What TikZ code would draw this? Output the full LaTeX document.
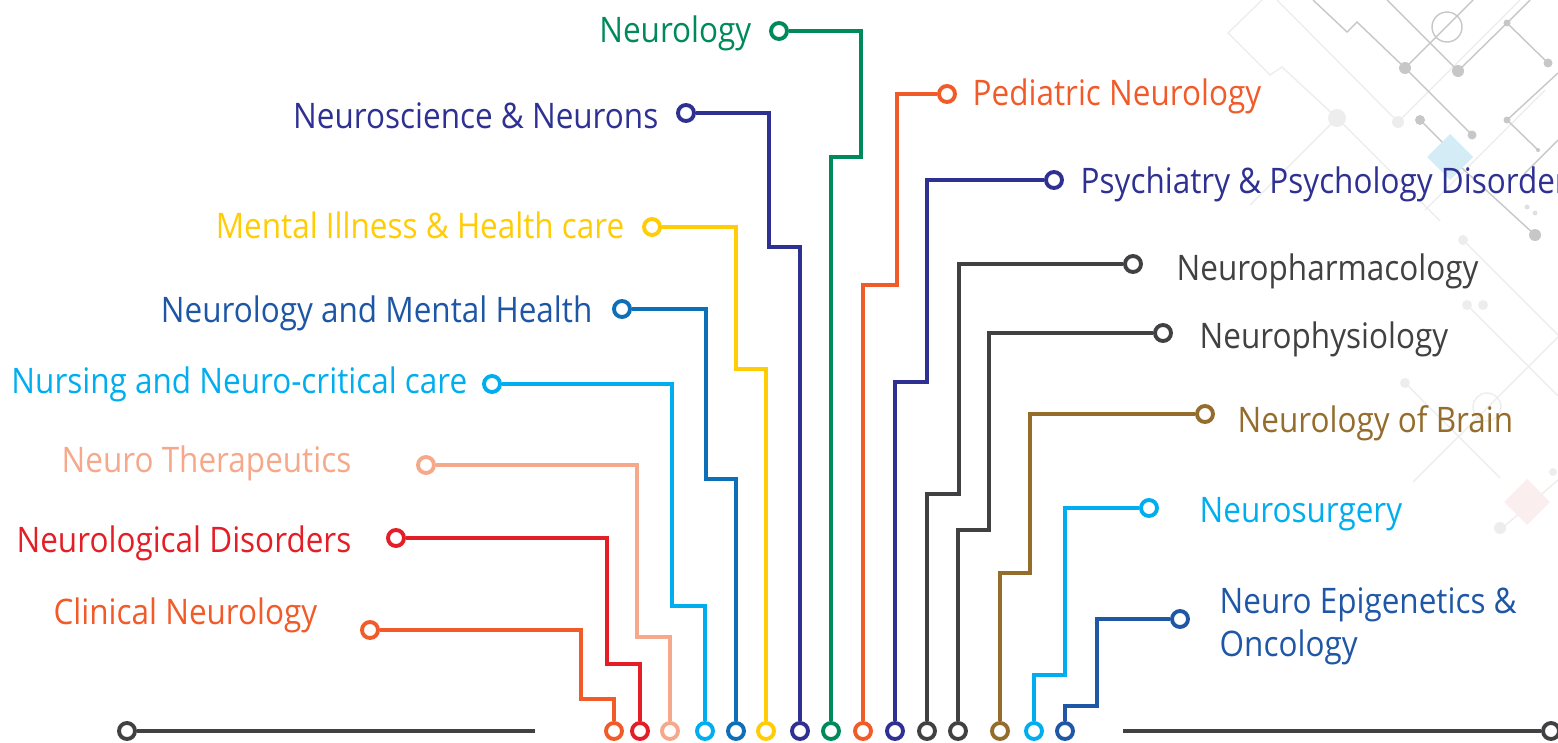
\documentclass[tikz,border=0pt]{standalone}
\usepackage{fontspec}
\setmainfont{Open Sans}[FakeStretch=0.895]
\definecolor{cgreen}{HTML}{008A5C}
\definecolor{cnavy}{HTML}{2E3192}
\definecolor{cyellow}{HTML}{FFCC05}
\definecolor{cmid}{HTML}{0C6FB8}
\definecolor{cmidtxt}{HTML}{1E56A6}
\definecolor{csky}{HTML}{00AEEF}
\definecolor{cpeach}{HTML}{F6A88A}
\definecolor{cred}{HTML}{E31E26}
\definecolor{corange}{HTML}{F15A29}
\definecolor{cgray}{HTML}{414042}
\definecolor{cbrown}{HTML}{946C2C}
\definecolor{cepi}{HTML}{1F57A6}
\definecolor{cice}{HTML}{D3ECF5}
\definecolor{crose}{HTML}{FBEEEE}
\begin{document}
\begin{tikzpicture}[x=0.01cm,y=-0.01cm,
    pin/.style={circle,draw,fill=white,line width=1.1pt,inner sep=0pt,minimum size=0.16cm},
    wire/.style={line width=1pt},
    lbl/.style={font=\fontsize{10}{12.2}\selectfont,inner sep=0pt},
    deco/.style={draw=black!22,line width=0.4pt},
    faint/.style={draw=black!7,line width=0.4pt}]
  \useasboundingbox (0,0) rectangle (1558,742);

  % Fundo (circuito)
  \draw[faint] (1262,0) -- (1228,33) -- (1270,75) -- (1282,67) -- (1337,118) -- (1440,221);
  \draw[faint] (1277,0) -- (1398,122) -- (1520,0);
  \draw[faint] (1337,118) -- (1250,205);
  \draw[faint] (1545,90) -- (1425,210);
  \draw[faint] (1463,240) -- (1558,335);
  \draw[faint] (1467,305) -- (1558,396);
  \draw[faint] (1558,337) -- (1413,482);
  \draw[faint] (1405,383) -- (1500,478);
  \draw[faint] (1558,480) -- (1500,530);
  \fill[black!7] (1337,118) circle[radius=9] (1398,122) circle[radius=6]
    (1463,240) circle[radius=5] (1467,305) circle[radius=5] (1483,305) circle[radius=5]
    (1405,383) circle[radius=5] (1553,472) circle[radius=4] (1500,528) circle[radius=6];
  \draw[faint] (1487,407) circle[radius=14];
  \fill[crose] (1527,479) -- (1550,502) -- (1527,525) -- (1504,502) -- cycle;

  \draw[deco] (1313,0) -- (1347,32) -- (1357,22) -- (1405,68) -- (1472,135);
  \draw[deco] (1405,68) -- (1473,0);
  \draw[deco] (1447,27) circle[radius=15];
  \draw[deco] (1387,0) -- (1458,71) -- (1507,23) -- (1530,0);
  \draw[deco] (1507,23) -- (1548,63);
  \draw[deco] (1420,120) -- (1448,148);
  \draw[deco] (1558,73) -- (1507,120) -- (1538,150);
  \draw[deco] (1450,157) -- (1535,235);
  \draw[deco] (1558,140) -- (1524,174);
  \fill[black!22] (1405,68) circle[radius=6] (1458,71) circle[radius=6]
    (1472,135) circle[radius=4.5] (1507,23) circle[radius=3.5] (1548,63) circle[radius=4.5]
    (1420,120) circle[radius=5] (1507,120) circle[radius=3.5] (1538,150) circle[radius=2]
    (1535,235) circle[radius=6];
  \fill[black!12] (1527,207) circle[radius=2.5] (1535,213) circle[radius=2.5];
  \fill[cice] (1450,134) -- (1473,157) -- (1450,180) -- (1427,157) -- cycle;

  % Linha de base
  \node[pin,draw=cgray] (e1) at (127,731) {};
  \coordinate (e2) at (535,731);
  \draw[wire,cgray] (e1) -- (e2);
  \node[pin,draw=cgray] (e4) at (1551,731) {};
  \coordinate (e3) at (1123,731);
  \draw[wire,cgray] (e3) -- (e4);

  % Ramos da esquerda
  \node[pin,draw=cgreen] (t1) at (779,31) {};
  \node[pin,draw=cgreen] (b1) at (831,731) {};
  \coordinate (k1) at (861,157);
  \draw[wire,cgreen] (t1) -| (k1) -| (b1);
  \node[lbl,text=cgreen,anchor=base east] (n1) at (752,42) {Neurology};

  \node[pin,draw=cnavy] (t2) at (686,113) {};
  \node[pin,draw=cnavy] (b2) at (800,731) {};
  \coordinate (k2) at (769,247);
  \draw[wire,cnavy] (t2) -| (k2) -| (b2);
  \node[lbl,text=cnavy,anchor=base east] (n2) at (659,128) {Neuroscience \& Neurons};

  \node[pin,draw=cyellow] (t3) at (652,227) {};
  \node[pin,draw=cyellow] (b3) at (766,731) {};
  \coordinate (k3) at (736,369);
  \draw[wire,cyellow] (t3) -| (k3) -| (b3);
  \node[lbl,text=cyellow,anchor=base east] (n3) at (625,238) {Mental Illness \& Health care};

  \node[pin,draw=cmid] (t4) at (622,309) {};
  \node[pin,draw=cmid] (b4) at (736,731) {};
  \coordinate (k4) at (706,479);
  \draw[wire,cmid] (t4) -| (k4) -| (b4);
  \node[lbl,text=cmidtxt,anchor=base east] (n4) at (593,322) {Neurology and Mental Health};

  \node[pin,draw=csky] (t5) at (492,384) {};
  \node[pin,draw=csky] (b5) at (705,731) {};
  \coordinate (k5) at (672,606);
  \draw[wire,csky] (t5) -| (k5) -| (b5);
  \node[lbl,text=csky,anchor=base east] (n5) at (468,393) {Nursing and Neuro-critical care};

  \node[pin,draw=cpeach] (t6) at (426,465) {};
  \node[pin,draw=cpeach] (b6) at (670,731) {};
  \coordinate (k6) at (637,637);
  \draw[wire,cpeach] (t6) -| (k6) -| (b6);
  \node[lbl,text=cpeach,anchor=base east] (n6) at (352,472) {Neuro Therapeutics};

  \node[pin,draw=cred] (t7) at (396,538) {};
  \node[pin,draw=cred] (b7) at (640,731) {};
  \coordinate (k7) at (607,664);
  \draw[wire,cred] (t7) -| (k7) -| (b7);
  \node[lbl,text=cred,anchor=base east] (n7) at (352,552) {Neurological Disorders};

  \node[pin,draw=corange] (t8) at (370,630) {};
  \node[pin,draw=corange] (b8) at (614,731) {};
  \coordinate (k8) at (581,699);
  \draw[wire,corange] (t8) -| (k8) -| (b8);
  \node[lbl,text=corange,anchor=base east] (n8) at (318,624) {Clinical Neurology};

  % Ramos da direita
  \node[pin,draw=corange] (t9) at (947,94) {};
  \node[pin,draw=corange] (b9) at (863,731) {};
  \coordinate (k9) at (897,285);
  \draw[wire,corange] (t9) -| (k9) -| (b9);
  \node[lbl,text=corange,anchor=base west] (n9) at (972,105) {Pediatric Neurology};

  \node[pin,draw=cnavy] (t10) at (1054,180) {};
  \node[pin,draw=cnavy] (b10) at (895,731) {};
  \coordinate (k10) at (927,382);
  \draw[wire,cnavy] (t10) -| (k10) -| (b10);
  \node[lbl,text=cnavy,anchor=base west] (n10) at (1080,193) {Psychiatry \& Psychology Disorders};

  \node[pin,draw=cgray] (t11) at (1133,264) {};
  \node[pin,draw=cgray] (b11) at (927,731) {};
  \coordinate (k11) at (959,494);
  \draw[wire,cgray] (t11) -| (k11) -| (b11);
  \node[lbl,text=cgray,anchor=base west] (n11) at (1176,280) {Neuropharmacology};

  \node[pin,draw=cgray] (t12) at (1163,333) {};
  \node[pin,draw=cgray] (b12) at (958,731) {};
  \coordinate (k12) at (989,530);
  \draw[wire,cgray] (t12) -| (k12) -| (b12);
  \node[lbl,text=cgray,anchor=base west] (n12) at (1199,348) {Neurophysiology};

  \node[pin,draw=cbrown] (t13) at (1205,414) {};
  \node[pin,draw=cbrown] (b13) at (1000,731) {};
  \coordinate (k13) at (1030,573);
  \draw[wire,cbrown] (t13) -| (k13) -| (b13);
  \node[lbl,text=cbrown,anchor=base west] (n13) at (1237,432) {Neurology of Brain};

  \node[pin,draw=csky] (t14) at (1149,508) {};
  \node[pin,draw=csky] (b14) at (1034,731) {};
  \coordinate (k14) at (1065,675);
  \draw[wire,csky] (t14) -| (k14) -| (b14);
  \node[lbl,text=csky,anchor=base west] (n14) at (1199,522) {Neurosurgery};

  \node[pin,draw=cepi] (t15) at (1180,619) {};
  \node[pin,draw=cepi] (b15) at (1065,731) {};
  \coordinate (k15) at (1097,706);
  \draw[wire,cepi] (t15) -| (k15) -| (b15);
  \node[lbl,text=cepi,anchor=base west,align=left] (n15) at (1219,656) {Neuro Epigenetics \&\\Oncology};
\end{tikzpicture}
\end{document}
